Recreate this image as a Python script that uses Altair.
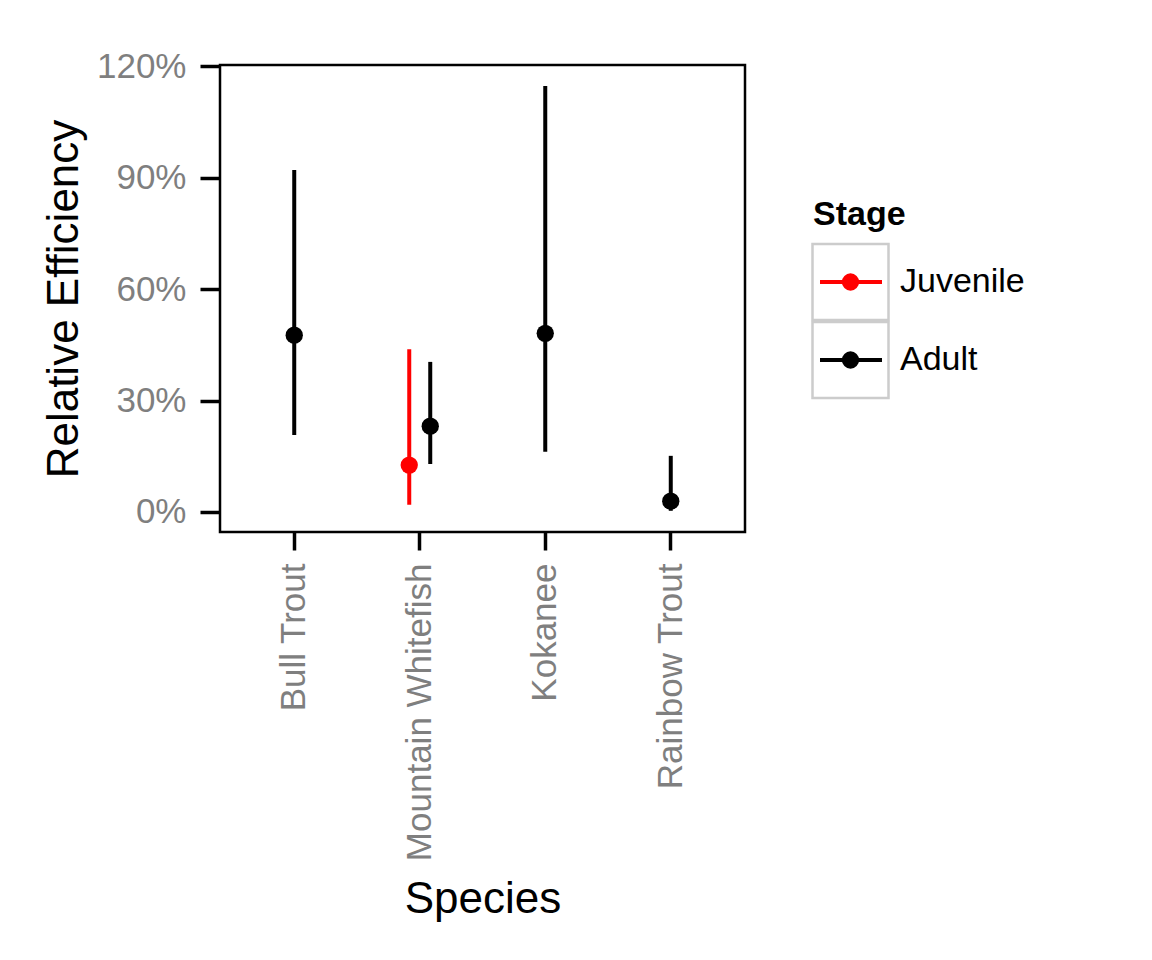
import altair as alt
import pandas as pd

# ---- data ----
species = ["Bull Trout", "Mountain Whitefish", "Mountain Whitefish", "Kokanee", "Rainbow Trout"]
stage = ["Adult", "Juvenile", "Adult", "Adult", "Adult"]
estimate = [0.476, 0.126, 0.231, 0.481, 0.029]
lower = [0.207, 0.019, 0.129, 0.162, 0.003]
upper = [0.921, 0.438, 0.404, 1.147, 0.151]

species_order = ["Bull Trout", "Mountain Whitefish", "Kokanee", "Rainbow Trout"]
stages = ["Juvenile", "Adult"]
stage_colors = ["#FF0000", "#000000"]
y_ticks = [0, 0.3, 0.6, 0.9, 1.2]

df = pd.DataFrame({"Species": species, "Stage": stage, "Estimate": estimate,
                   "Lower": lower, "Upper": upper})
counts = df.groupby("Species")["Stage"].transform("count")
df["Dodge"] = [s if c > 1 else "center" for s, c in zip(df["Stage"], counts)]

FONT = "Liberation Sans"
GREY = "#7F7F7F"
RULE_W = 4
DOT = 300

color_scale = alt.Scale(domain=stages, range=stage_colors)

x_enc = alt.X("Species:N", sort=species_order,
              scale=alt.Scale(domain=species_order, paddingInner=0.749, paddingOuter=0.466),
              axis=alt.Axis(title="Species", labelAngle=-90, labelFontSize=35, labelColor=GREY,
                            labelFont=FONT, labelPadding=13, labelLimit=500, tickSize=18,
                            tickWidth=3.5, tickColor="black", domain=False, titleFontSize=44,
                            titleFont=FONT, titleFontWeight="normal", titleColor="black",
                            titleY=380, titleBaseline="alphabetic"))
xoff_enc = alt.XOffset("Dodge:N", scale=alt.Scale(domain=["Juvenile", "center", "Adult"],
                                                  paddingInner=0, paddingOuter=0))
y_scale = alt.Scale(domain=[-0.0541, 1.2035], nice=False, zero=False)
y_axis = alt.Axis(title="Relative Efficiency", values=y_ticks, format=".0%", labelFontSize=35,
                  labelColor=GREY, labelFont=FONT, labelPadding=14, tickSize=20,
                  tickWidth=3.5, tickColor="black", domain=False, grid=False,
                  titleFontSize=44, titleFont=FONT, titleFontWeight="normal",
                  titleColor="black", titlePadding=10)

base = alt.Chart(df)
rules = base.mark_rule(strokeWidth=RULE_W).encode(
    x=x_enc, xOffset=xoff_enc,
    y=alt.Y("Lower:Q", scale=y_scale, axis=y_axis),
    y2="Upper:Q",
    color=alt.Color("Stage:N", scale=color_scale, legend=None),
)
points = base.mark_circle(size=DOT, opacity=1).encode(
    x=x_enc, xOffset=xoff_enc,
    y=alt.Y("Estimate:Q", scale=y_scale, axis=y_axis),
    color=alt.Color("Stage:N", scale=color_scale, legend=None),
)
main = alt.layer(rules, points).properties(
    width=525, height=467,
    view=alt.ViewBackground(stroke="black", strokeWidth=2.5),
)

# ---- hand-built legend panel (ggplot style keys) ----
leg_df = pd.DataFrame({"Stage": stages})
ly = alt.Y("Stage:N", scale=alt.Scale(type="point", domain=stages, range=[217, 295], padding=0),
           axis=None)
lbase = alt.Chart(leg_df)
boxes = lbase.mark_point(shape="square", size=76 * 76, filled=False, stroke="#CCCCCC",
                         strokeWidth=2.5, opacity=1).encode(x=alt.value(42.5), y=ly)
lines = lbase.mark_rule(strokeWidth=RULE_W).encode(
    x=alt.value(12), x2=alt.value(74), y=ly,
    color=alt.Color("Stage:N", scale=color_scale, legend=None))
dots = lbase.mark_circle(size=DOT, opacity=1).encode(
    x=alt.value(42.5), y=ly, color=alt.Color("Stage:N", scale=color_scale, legend=None))
labels = lbase.mark_text(align="left", baseline="middle", fontSize=34, font=FONT,
                         color="black").encode(x=alt.value(92), y=ly, text="Stage:N")
title = alt.Chart(pd.DataFrame({"t": ["Stage"]})).mark_text(
    align="left", baseline="middle", fontSize=34, font=FONT, fontWeight="bold",
    color="black").encode(x=alt.value(5), y=alt.value(150), text="t:N")
legend = alt.layer(boxes, lines, dots, labels, title).properties(
    width=230, height=467, view=alt.ViewBackground(stroke=None))

chart = alt.hconcat(main, legend, spacing=60).resolve_scale(
    x="independent", y="independent").properties(
    padding={"left": 41, "top": 48, "right": 5, "bottom": 5},
    background="white",
).configure_view(stroke=None)

chart.save("out.html", embed_options={"renderer": "svg", "actions": False})
